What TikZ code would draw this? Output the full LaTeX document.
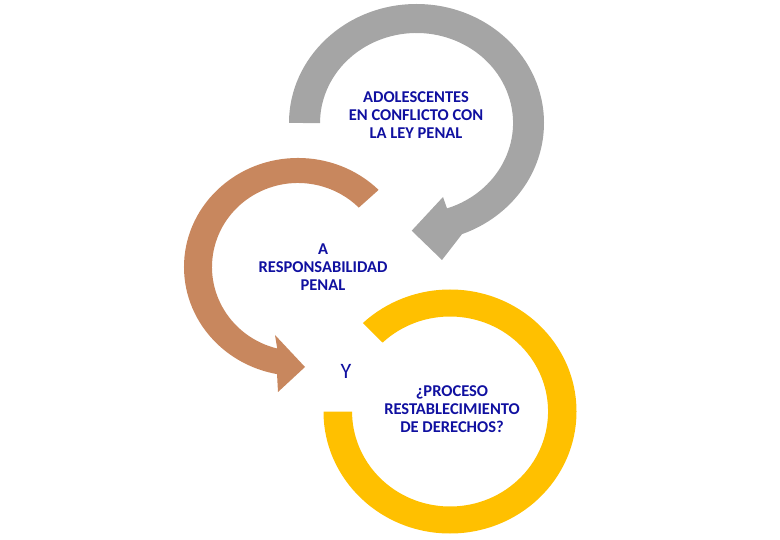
\documentclass[tikz,border=0pt]{standalone}
\usepackage{fontspec}
\setmainfont{Carlito}
\definecolor{arrowgray}{HTML}{A5A5A5}
\definecolor{arrowbrown}{HTML}{C8875E}
\definecolor{ringyellow}{HTML}{FFC000}
\definecolor{textblue}{RGB}{16,16,160}
\begin{document}
\begin{tikzpicture}[x=1pt,y=1pt,
  lbl/.style={text=textblue, font=\bfseries\fontsize{16.5}{17.8}\selectfont, align=center, inner sep=0pt}]
\useasboundingbox (0,0) rectangle (780,-540);
% gray circular arrow
\fill[arrowgray] (289,-123)
  arc[start angle=180, end angle=-69.1, x radius=127.5, y radius=119]
  -- (442,-260) -- (411.7,-230.7) -- (443,-197) -- (447,-208.4)
  arc[start angle=-71.6, end angle=180, x radius=96.5, y radius=90] -- cycle;
% brown circular arrow
\fill[arrowbrown] (378.6,-189.9)
  arc[start angle=45, end angle=259.4, x radius=114, y radius=109]
  -- (278,-392) -- (305,-367) -- (275,-335) -- (277.2,-348.5)
  arc[start angle=256, end angle=45, x radius=86, y radius=84] -- cycle;
% yellow ring
\fill[ringyellow] (323.5,-411.5)
  arc[start angle=180, end angle=493.5, x radius=126.5, y radius=122]
  -- (382.6,-342.6)
  arc[start angle=493.5, end angle=180, x radius=98, y radius=95] -- cycle;
% texts
\node[lbl] (adol) at (416,-115) {ADOLESCENTES\\EN CONFLICTO CON\\LA LEY PENAL};
\node[lbl] (resp) at (323,-267) {A\\RESPONSABILIDAD\\PENAL};
\node[text=textblue, font=\fontsize{22}{24}\selectfont, inner sep=0pt] (yy) at (346,-371) {Y};
\node[lbl] (proc) at (452,-409) {¿PROCESO\\RESTABLECIMIENTO\\DE DERECHOS?};
\end{tikzpicture}
\end{document}
